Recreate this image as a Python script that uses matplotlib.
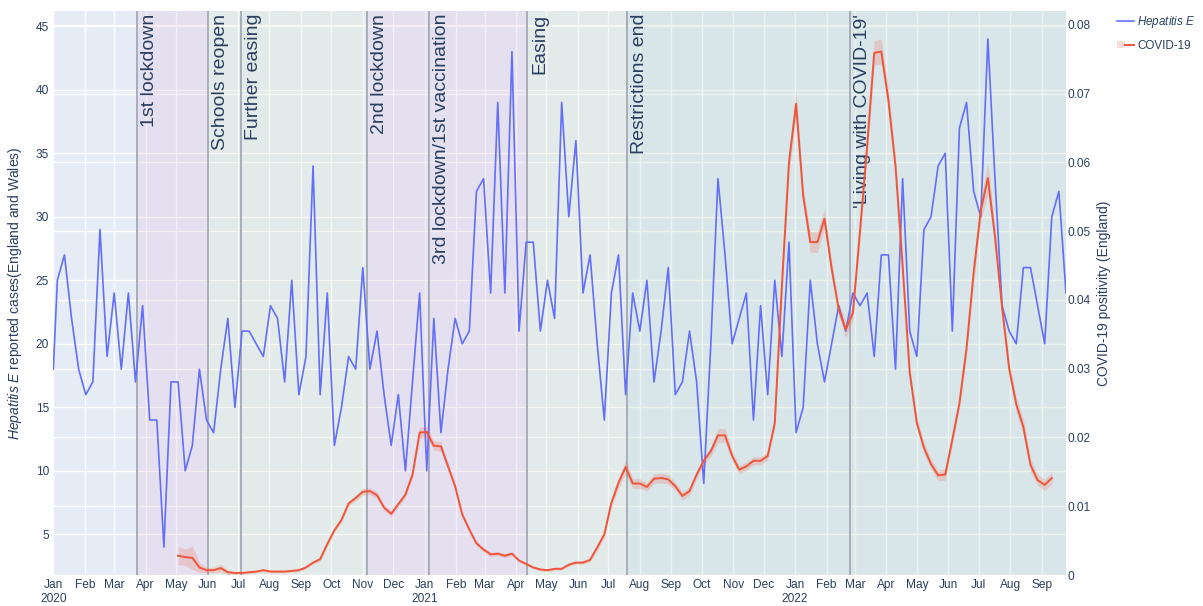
import pandas as pd
import matplotlib.pyplot as plt
import matplotlib.dates as mdates
from matplotlib.lines import Line2D
from matplotlib.patches import Patch
from matplotlib.legend_handler import HandlerTuple
from matplotlib.ticker import FuncFormatter
from matplotlib.transforms import blended_transform_factory

plt.rcParams['font.family'] = ['Liberation Sans', 'DejaVu Sans']
plt.rcParams['mathtext.fontset'] = 'custom'
plt.rcParams['mathtext.it'] = 'Liberation Sans:italic'
plt.rcParams['mathtext.rm'] = 'Liberation Sans'

TEXT = '#2a3f5f'
HEP_BLUE = '#636efa'
COVID_RED = '#ef553b'

# weekly hepatitis E reports, England and Wales
hep_dates = pd.to_datetime(['2020-01-01']).append(
    pd.date_range('2020-01-05', '2022-09-25', freq='7D'))
hep_cases = [
    18, 25, 27, 22, 18, 16, 17, 29, 19, 24,
    18, 24, 17, 23, 14, 14, 4, 17, 17, 10,
    12, 18, 14, 13, 18, 22, 15, 21, 21, 20,
    19, 23, 22, 17, 25, 16, 19, 34, 16, 24,
    12, 15, 19, 18, 26, 18, 21, 16, 12, 16,
    10, 17, 24, 10, 22, 13, 18, 22, 20, 21,
    32, 33, 24, 39, 24, 43, 21, 28, 28, 21,
    25, 22, 39, 30, 36, 24, 27, 20, 14, 24,
    27, 16, 24, 21, 25, 17, 21, 26, 16, 17,
    21, 17, 9, 20, 33, 27, 20, 22, 24, 14,
    23, 16, 25, 19, 28, 13, 15, 25, 20, 17,
    20, 23, 21, 24, 23, 24, 19, 27, 27, 18,
    33, 21, 19, 29, 30, 34, 35, 21, 37, 39,
    32, 30, 44, 33, 23, 21, 20, 26, 26, 23,
    20, 30, 32, 24,
]

# weekly COVID-19 positivity estimate (England) with 95% interval half-width
covid_dates = pd.date_range('2020-05-03', periods=124, freq='7D')
covid_pos = [
    0.0028, 0.0026, 0.0025, 0.0011, 0.0007, 0.0007, 0.0010, 0.0004, 0.0003, 0.0003,
    0.0004, 0.0005, 0.0007, 0.0005, 0.0005, 0.0005, 0.0006, 0.0007, 0.0011, 0.0018,
    0.0023, 0.0045, 0.0065, 0.0080, 0.0104, 0.0112, 0.0121, 0.0122, 0.0116, 0.0098,
    0.0089, 0.0103, 0.0117, 0.0146, 0.0207, 0.0208, 0.0188, 0.0187, 0.0158, 0.0129,
    0.0088, 0.0066, 0.0046, 0.0037, 0.0030, 0.0031, 0.0028, 0.0031, 0.0021, 0.0016,
    0.0011, 0.0008, 0.0007, 0.0009, 0.0009, 0.0015, 0.0018, 0.0018, 0.0022, 0.0040,
    0.0059, 0.0105, 0.0134, 0.0157, 0.0133, 0.0133, 0.0128, 0.0140, 0.0141, 0.0139,
    0.0129, 0.0115, 0.0122, 0.0146, 0.0166, 0.0180, 0.0203, 0.0203, 0.0173, 0.0153,
    0.0158, 0.0166, 0.0166, 0.0173, 0.0221, 0.0420, 0.0600, 0.0685, 0.0551, 0.0484,
    0.0484, 0.0518, 0.0446, 0.0386, 0.0357, 0.0381, 0.0500, 0.0623, 0.0759, 0.0761,
    0.0690, 0.0594, 0.0449, 0.0294, 0.0221, 0.0185, 0.0161, 0.0145, 0.0146, 0.0197,
    0.0250, 0.0330, 0.0440, 0.0530, 0.0577, 0.0492, 0.0389, 0.0300, 0.0248, 0.0215,
    0.0160, 0.0138, 0.0131, 0.0141,
]
covid_ci = [
    0.0013, 0.0012, 0.0017, 0.0007, 0.0004, 0.0004, 0.0006, 0.0003, 0.0002, 0.0002,
    0.0002, 0.0002, 0.0002, 0.0002, 0.0002, 0.0002, 0.0002, 0.0002, 0.0002, 0.0002,
    0.0003, 0.0003, 0.0003, 0.0003, 0.0004, 0.0004, 0.0005, 0.0005, 0.0005, 0.0004,
    0.0004, 0.0004, 0.0004, 0.0005, 0.0008, 0.0008, 0.0007, 0.0007, 0.0005, 0.0004,
    0.0004, 0.0003, 0.0003, 0.0003, 0.0003, 0.0003, 0.0003, 0.0003, 0.0002, 0.0002,
    0.0002, 0.0002, 0.0002, 0.0002, 0.0002, 0.0002, 0.0002, 0.0002, 0.0003, 0.0004,
    0.0005, 0.0006, 0.0008, 0.0010, 0.0007, 0.0007, 0.0006, 0.0007, 0.0007, 0.0007,
    0.0006, 0.0006, 0.0006, 0.0006, 0.0006, 0.0007, 0.0010, 0.0010, 0.0007, 0.0006,
    0.0006, 0.0006, 0.0006, 0.0006, 0.0008, 0.0012, 0.0015, 0.0019, 0.0013, 0.0015,
    0.0015, 0.0014, 0.0010, 0.0009, 0.0012, 0.0010, 0.0010, 0.0012, 0.0018, 0.0018,
    0.0014, 0.0012, 0.0010, 0.0008, 0.0008, 0.0008, 0.0007, 0.0008, 0.0008, 0.0007,
    0.0008, 0.0010, 0.0013, 0.0015, 0.0022, 0.0014, 0.0010, 0.0009, 0.0011, 0.0011,
    0.0009, 0.0008, 0.0008, 0.0009,
]

# policy milestones
event_dates = pd.to_datetime([
    '2020-03-23', '2020-06-01', '2020-07-04', '2020-11-05',
    '2021-01-05', '2021-04-12', '2021-07-19', '2022-02-24',
])
event_labels = [
    '1st lockdown', 'Schools reopen', 'Further easing', '2nd lockdown',
    '3rd lockdown/1st vaccination', 'Easing', 'Restrictions end',
    "'Living with COVID-19'",
]

# restriction periods for background shading
period_bounds = pd.to_datetime([
    '2020-03-23', '2020-06-01', '2020-11-05', '2021-04-12', '2021-07-19', '2022-09-25',
])
period_kind = ['lockdown', 'easing', 'lockdown', 'easing', 'open']
period_colour = {'lockdown': '#e3c6e0', 'easing': '#dde8d0', 'open': '#bdd8cb'}

x_start = pd.Timestamp('2020-01-01')
x_end = pd.Timestamp('2022-09-25')

W, H = 1203, 606
fig = plt.figure(figsize=(W / 100, H / 100), dpi=100)
ax1 = fig.add_axes([53.3 / W, 1 - 575 / H, (1066 - 53.3) / W, (575 - 11) / H])
ax2 = ax1.twinx()

ax1.set_facecolor('#e5ecf6')
for ax in (ax1, ax2):
    for s in ax.spines.values():
        s.set_visible(False)

ax1.set_xlim(x_start, x_end)
ax1.set_ylim(1.8, 46.2)
ax2.set_ylim(0, 0.082)
ax1.set_yticks(range(5, 46, 5))
ax2.set_yticks([i / 100 for i in range(9)])
ax2.yaxis.set_major_formatter(FuncFormatter(lambda v, p: '0' if v == 0 else f'{v:.2f}'))

ax1.xaxis.set_major_locator(mdates.MonthLocator())


def month_label(x, pos):
    d = mdates.num2date(x)
    return d.strftime('%b\n%Y') if d.month == 1 else d.strftime('%b')


ax1.xaxis.set_major_formatter(FuncFormatter(month_label))

# gridlines for both y scales sit under the shaded periods
ax1.set_axisbelow(True)
ax1.grid(True, color='white', lw=1)
right_grid = blended_transform_factory(ax1.transAxes, ax2.transData)
for t in ax2.get_yticks():
    ax1.add_line(Line2D([0, 1], [t, t], transform=right_grid, color='white', lw=1, zorder=0.6))

for lo, hi, kind in zip(period_bounds[:-1], period_bounds[1:], period_kind):
    ax1.axvspan(lo, hi, color=period_colour[kind], alpha=0.3, lw=0, zorder=1)

for d, label in zip(event_dates, event_labels):
    ax1.axvline(d, color='#a3a9b5', lw=1.3, zorder=2)
    ax1.annotate(label, xy=(d, 1), xycoords=('data', 'axes fraction'),
                 xytext=(4, -3), textcoords='offset pixels', rotation=90,
                 ha='left', va='top', fontsize=14, color=TEXT, zorder=4)

ax1.plot(hep_dates, hep_cases, color=HEP_BLUE, lw=1.2, zorder=3)

lower = [p - c for p, c in zip(covid_pos, covid_ci)]
upper = [p + c for p, c in zip(covid_pos, covid_ci)]
ax2.fill_between(covid_dates, lower, upper, color=COVID_RED, alpha=0.2, lw=0)
ax2.plot(covid_dates, covid_pos, color=COVID_RED, lw=1.4)

ax1.set_xlim(x_start, x_end)
ax1.set_ylim(1.8, 46.2)
ax2.set_ylim(0, 0.082)

ax1.tick_params(axis='both', length=0, labelsize=8.6, labelcolor=TEXT)
ax1.tick_params(axis='x', pad=3)
ax1.tick_params(axis='y', pad=3)
ax2.tick_params(axis='y', length=0, labelsize=8.6, labelcolor=TEXT, pad=1)

ax1.set_ylabel(r'$\it{Hepatitis\ E}$ reported cases(England and Wales)', fontsize=10, color=TEXT)
ax1.yaxis.set_label_coords(-0.029, 0.5)
ax2.set_ylabel('COVID-19 positivity (England)', fontsize=10, color=TEXT)
ax2.yaxis.set_label_coords(1.031, 0.5)

handles = [
    Line2D([], [], color=HEP_BLUE, lw=1.2),
    (Patch(facecolor=COVID_RED, alpha=0.2, lw=0), Line2D([], [], color=COVID_RED, lw=1.4)),
]
fig.legend(handles, [r'$\it{Hepatitis\ E}$', 'COVID-19'], loc='upper left',
           bbox_to_anchor=(1117 / W, 1 - 14 / H), frameon=False, fontsize=8.4,
           labelcolor=TEXT, handlelength=1.45, handleheight=0.5, handletextpad=0.3,
           labelspacing=0.85, borderpad=0, borderaxespad=0,
           handler_map={tuple: HandlerTuple(ndivide=None)})

fig.savefig('out.png', dpi=100)
